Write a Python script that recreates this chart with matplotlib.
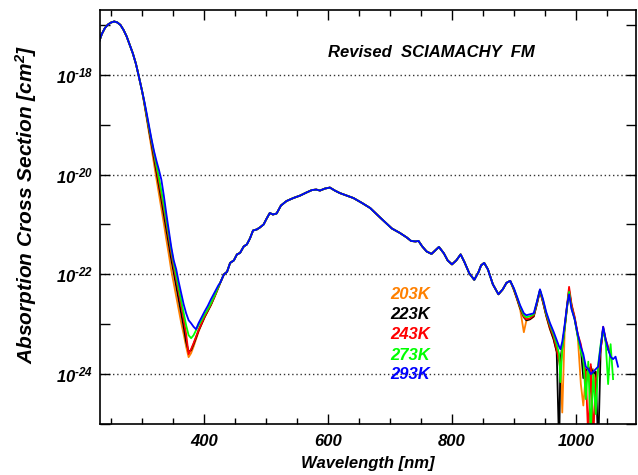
#
# Ozone absorption cross section, SCIAMACHY FM, five temperatures
#
import numpy as np
import matplotlib
matplotlib.use('Agg')
import matplotlib.pyplot as plt
from matplotlib.ticker import MultipleLocator, NullLocator

plt.rcParams['font.family'] = 'Liberation Sans'
plt.rcParams['font.weight'] = 'bold'
plt.rcParams['font.style'] = 'italic'
plt.rcParams['axes.labelweight'] = 'bold'
plt.rcParams['mathtext.fontset'] = 'custom'
plt.rcParams['mathtext.rm'] = 'Liberation Sans:italic:bold'
plt.rcParams['mathtext.it'] = 'Liberation Sans:italic:bold'
plt.rcParams['mathtext.bf'] = 'Liberation Sans:italic:bold'
#
# data (log10 of cross section in cm^2)
#
temps = ['203K', '223K', '243K', '273K', '293K']
colors = ['#ff8000', 'black', '#ff0000', '#00ff00', '#0000ff']

# Hartley band, same for all temperatures
hartley_wl = [231, 235, 240, 245, 250, 255, 260, 265, 270, 275, 280, 285, 290, 295, 300]
hartley_log = [-17.32, -17.18, -17.06, -16.99, -16.95, -16.93, -16.95, -17.0, -17.1,
               -17.23, -17.4, -17.57, -17.78, -18.05, -18.33]

# Huggins band, temperature dependent
uv_wl = [303, 307, 311, 315, 319, 323, 327, 331, 335, 339, 343, 347, 351, 355, 359,
         363, 367, 371, 375, 379, 383, 387, 391, 396, 401, 406, 411, 417, 423]
uv_203 = [-18.55, -18.85, -19.16, -19.46, -19.77, -20.08, -20.38, -20.68, -20.98, -21.3,
          -21.6, -21.92, -22.18, -22.44, -22.7, -22.97, -23.2, -23.45, -23.66, -23.58,
          -23.45, -23.3, -23.15, -23.0, -22.86, -22.74, -22.62, -22.45, -22.27]
uv_223 = [-18.53, -18.82, -19.1, -19.38, -19.66, -19.95, -20.22, -20.5, -20.8, -21.1,
          -21.4, -21.7, -21.97, -22.24, -22.5, -22.77, -23.05, -23.35, -23.55, -23.52,
          -23.4, -23.27, -23.13, -22.99, -22.85, -22.73, -22.61, -22.44, -22.26]
uv_243 = [-18.52, -18.8, -19.07, -19.33, -19.6, -19.86, -20.13, -20.4, -20.68, -20.98,
          -21.28, -21.57, -21.85, -22.1, -22.36, -22.62, -22.9, -23.2, -23.6, -23.5,
          -23.38, -23.25, -23.12, -22.98, -22.84, -22.72, -22.6, -22.44, -22.26]
uv_273 = [-18.51, -18.78, -19.05, -19.3, -19.56, -19.8, -20.05, -20.32, -20.6, -20.9,
          -21.2, -21.5, -21.77, -22.02, -22.27, -22.52, -22.78, -23.02, -23.22, -23.28,
          -23.22, -23.12, -23.02, -22.92, -22.8, -22.7, -22.58, -22.42, -22.25]
uv_293 = [-18.5, -18.75, -19.02, -19.28, -19.52, -19.72, -19.9, -20.1, -20.42, -20.78,
          -21.12, -21.45, -21.72, -21.9, -22.15, -22.38, -22.6, -22.78, -22.92, -22.98,
          -23.05, -23.1, -22.98, -22.86, -22.74, -22.63, -22.5, -22.36, -22.22]

# Chappuis / Wulf bands, same for all temperatures
mid_wl = [426, 432, 437, 442, 448, 453, 458, 464, 469, 474, 479, 485, 490, 496, 501, 506,
          511, 517, 524, 533, 544, 555, 565, 574, 581, 587, 595, 603, 611, 619, 630, 641,
          655, 668, 684, 703, 716, 727, 734, 741, 746, 752, 759, 767, 773, 779, 787, 793,
          800, 807, 814, 820, 828, 836, 843, 847, 852, 858, 866, 875, 882, 888, 894]
mid_log = [-22.17, -22.0, -21.95, -21.77, -21.72, -21.6, -21.57, -21.44, -21.4, -21.28,
           -21.12, -21.1, -21.06, -21.0, -20.88, -20.77, -20.8, -20.78, -20.62, -20.53,
           -20.47, -20.42, -20.36, -20.31, -20.3, -20.32, -20.28, -20.26, -20.32, -20.37,
           -20.42, -20.47, -20.57, -20.67, -20.86, -21.08, -21.17, -21.26, -21.33, -21.34,
           -21.33, -21.44, -21.54, -21.59, -21.52, -21.45, -21.58, -21.72, -21.8, -21.72,
           -21.6, -21.75, -21.98, -22.11, -21.95, -21.82, -21.77, -21.9, -22.2, -22.4,
           -22.3, -22.17, -22.13]

# near infrared, noisy and temperature dependent
nan = np.nan
nir_wl = [900, 905, 910, 916, 920, 926, 932, 937, 942, 947, 952, 958, 964, 969, 973, 975,
          978, 982, 986, 989, 993, 998, 1003, 1008, 1012, 1016, 1020, 1024, 1028, 1032,
          1036, 1040, 1044, 1048, 1052, 1056, 1060, 1064, 1068]
nir_203 = [-22.32, -22.5, -22.7, -23.16, -22.93, -22.9, -22.85, -22.6, -22.33,
           -22.57, -22.83, -23.1, -23.3, -23.55, -23.7, -23.8, -24.77, -23.1,
           -22.65, -22.35, -22.65, -22.9, -23.25, -24.2, -24.63, -24.0, -23.9,
           -24.1, -23.9, -24.3, -23.9, -23.5, -23.1, -23.35, -23.5, -23.6, nan, nan, nan]
nir_223 = [-22.31, -22.49, -22.68, -22.86, -22.92, -22.9, -22.84, -22.6, -22.33,
           -22.56, -22.82, -23.08, -23.3, -23.55, -25.5, -23.7, -23.45, -23.05,
           -22.62, -22.32, -22.62, -22.88, -23.22, -23.5, -24.08, -23.9, -23.95,
           -23.85, -24.0, -23.95, -25.5, -23.5, -23.08, -23.32, -23.5, -23.62, nan, nan, nan]
nir_243 = [-22.3, -22.48, -22.66, -22.85, -22.9, -22.88, -22.82, -22.58, -22.32,
           -22.55, -22.8, -23.05, -23.25, -23.5, -23.75, -23.9, -23.5, -23.05,
           -22.6, -22.25, -22.6, -22.85, -23.2, -23.4, -23.7, -24.0, -25.3,
           -23.8, -25.3, -24.1, -23.9, -23.5, -23.05, -23.3, -23.45, -23.6, nan, nan, nan]
nir_273 = [-22.29, -22.46, -22.64, -22.82, -22.86, -22.84, -22.8, -22.56, -22.31,
           -22.52, -22.78, -23.0, -23.2, -23.4, -23.6, -24.16, -23.5, -23.05,
           -22.62, -22.35, -22.68, -22.9, -23.25, -23.55, -23.7, -24.5, -23.75,
           -25.2, -24.0, -24.8, -23.8, -23.4, -23.1, -23.35, -24.2, -23.4, -24.1, nan, nan]
nir_293 = [-22.28, -22.45, -22.62, -22.78, -22.82, -22.8, -22.78, -22.55, -22.3,
           -22.5, -22.75, -22.97, -23.15, -23.32, -23.45, -23.5, -23.35, -23.0,
           -22.6, -22.4, -22.7, -22.9, -23.2, -23.45, -23.6, -23.85, -23.9,
           -24.0, -23.95, -23.9, -23.85, -23.45, -23.05, -23.3, -23.5, -23.65, -23.7, -23.65, -23.85]

uv_all = [uv_203, uv_223, uv_243, uv_273, uv_293]
nir_all = [nir_203, nir_223, nir_243, nir_273, nir_293]
#
# plot
#
fig = plt.figure(figsize=(6.38, 4.75), dpi=100)
ax = fig.add_axes([100/638, 51/475, 536/638, 414/475])

wl = np.array(hartley_wl + uv_wl + mid_wl + nir_wl, dtype=float)
for i in range(len(temps)):
    logs = np.array(hartley_log + uv_all[i] + mid_log + nir_all[i], dtype=float)
    ax.plot(wl, 10.0**logs, color=colors[i], lw=1.3)

ax.set_yscale('log')
ax.set_xlim(232, 1097)
ax.set_ylim(10**-24.98, 10**-16.7)

# dotted lines at the labelled decades
for e in [-18, -20, -22, -24]:
    ax.axhline(10.0**e, color='#333333', lw=1.0, ls=(0, (1, 2)), zorder=0)

ax.xaxis.set_major_locator(MultipleLocator(200))
ax.xaxis.set_minor_locator(MultipleLocator(50))
yt = [10.0**e for e in range(-25, -16)]
ax.set_yticks(yt)
ax.set_yticklabels(['' if e % 2 else r'$10^{\text{%d}}$' % e for e in range(-25, -16)])
ax.yaxis.set_minor_locator(NullLocator())
ax.tick_params(which='both', direction='in', top=True, right=True, width=1.0)
ax.tick_params(which='major', length=7, labelsize=12)
ax.tick_params(which='minor', length=4)
ax.tick_params(axis='x', pad=7)
ax.tick_params(axis='y', pad=5)
for s in ax.spines.values():
    s.set_linewidth(1.2)

ax.set_xlabel('Wavelength [nm]', fontsize=12, fontweight='bold', labelpad=5)
ax.set_ylabel(r'Absorption Cross Section [cm$^2$]', fontsize=15, fontweight='bold')
ax.yaxis.set_label_coords(-0.113, 0.53)

ax.text(600, 10**-17.56, 'Revised  SCIAMACHY  FM', fontsize=12, fontweight='bold',
        ha='left', va='center')
ylev = [-22.4, -22.8, -23.2, -23.62, -24.0]
for i in range(len(temps)):
    ax.text(700, 10**ylev[i], temps[i], color=colors[i], fontsize=12, fontweight='bold',
            ha='left', va='center')

plt.savefig('out.png', dpi=100)
